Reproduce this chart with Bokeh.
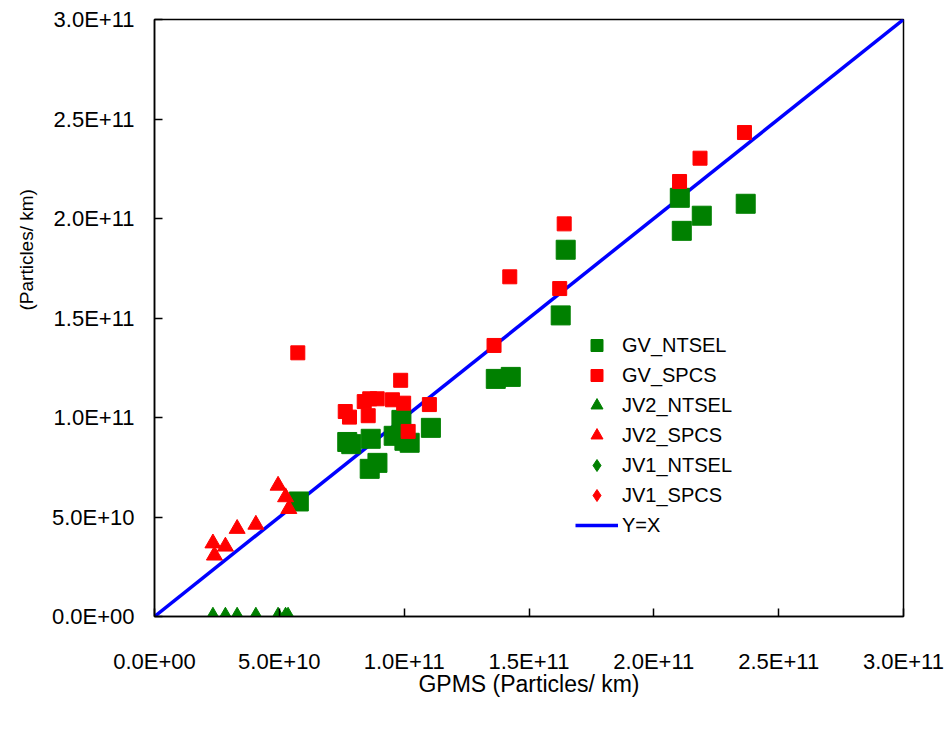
import math
from bokeh.plotting import figure
from bokeh.models import Range1d, Legend, LegendItem, Title, FixedTicker, CustomJSTickFormatter
from bokeh.embed import file_html
from bokeh.resources import INLINE

# ---- data (particles/km) ----
gv_ntsel_x = [77.2e9, 78.8e9, 86.6e9, 98.9e9, 95.8e9, 100.1e9, 102.2e9, 110.7e9, 89.3e9, 86.2e9,
              57.8e9, 164.7e9, 162.7e9, 136.7e9, 142.7e9, 210.4e9, 219.2e9, 211.2e9, 236.8e9]
gv_ntsel_y = [87.7e9, 86.6e9, 89.3e9, 98.8e9, 90.8e9, 88.3e9, 87.3e9, 94.8e9, 77.2e9, 74.2e9,
              57.8e9, 184.3e9, 151.3e9, 119.4e9, 120.4e9, 210.4e9, 201.4e9, 193.8e9, 207.4e9]

gv_spcs_x = [57.4e9, 98.6e9, 86.2e9, 84.0e9, 89.2e9, 95.3e9, 99.8e9, 110.1e9, 76.4e9, 78.1e9,
             85.6e9, 101.6e9, 164.1e9, 142.3e9, 162.3e9, 136.0e9, 236.3e9, 218.5e9, 210.3e9]
gv_spcs_y = [132.5e9, 118.7e9, 109.4e9, 108.0e9, 109.4e9, 108.9e9, 107.2e9, 106.5e9, 103.0e9, 100.2e9,
             100.9e9, 93.0e9, 197.3e9, 170.7e9, 164.8e9, 136.2e9, 243.2e9, 230.3e9, 218.6e9]

jv2_ntsel_x = [23.4e9, 28.4e9, 33.1e9, 40.6e9, 49.5e9, 52.5e9, 53.5e9]
jv2_ntsel_y = [0.0, 0.0, 0.0, 0.0, 0.0, 0.0, 0.0]

jv2_spcs_x = [49.5e9, 52.5e9, 53.8e9, 33.1e9, 40.6e9, 23.4e9, 28.4e9, 24.0e9]
jv2_spcs_y = [65.8e9, 60.0e9, 54.1e9, 44.1e9, 46.2e9, 36.8e9, 35.2e9, 30.7e9]

# JV1 series: no visible points in the chart (legend entries only)
jv1_ntsel_x = [float("nan")]
jv1_ntsel_y = [float("nan")]
jv1_spcs_x = [float("nan")]
jv1_spcs_y = [float("nan")]

yx_line = [0.0, 3.0e11]

tick_values = [0.0, 5.0e10, 1.0e11, 1.5e11, 2.0e11, 2.5e11, 3.0e11]
tick_labels = ["0.0E+00", "5.0E+10", "1.0E+11", "1.5E+11", "2.0E+11", "2.5E+11", "3.0E+11"]

FONT = "Liberation Sans"

p = figure(width=946, height=730, output_backend="svg", toolbar_location=None,
           x_range=Range1d(0, 3.0e11), y_range=Range1d(0, 3.0e11),
           min_border_left=154, min_border_right=43, min_border_top=19, min_border_bottom=114)
p.background_fill_color = "white"
p.border_fill_color = "white"
p.outline_line_color = "black"
p.outline_line_width = 1.5
p.xgrid.visible = False
p.ygrid.visible = False

GREEN = "#008000"
RED = "#FF0000"

r_line = p.line(yx_line, yx_line, line_color="#0000FF", line_width=3.5)
r_gvn = p.scatter(gv_ntsel_x, gv_ntsel_y, marker="square", size=19, color=GREEN)
r_gvs = p.scatter(gv_spcs_x, gv_spcs_y, marker="square", size=14, color=RED)
r_j2n = p.scatter(jv2_ntsel_x, jv2_ntsel_y, marker="triangle", size=16, color=GREEN)
r_j2s = p.scatter(jv2_spcs_x, jv2_spcs_y, marker="triangle", size=16, color=RED)
r_j1n = p.scatter(jv1_ntsel_x, jv1_ntsel_y, marker="diamond", size=18, color=GREEN)
r_j1s = p.scatter(jv1_spcs_x, jv1_spcs_y, marker="diamond", size=18, color=RED)

tick_map = dict(zip([str(int(v)) for v in tick_values], tick_labels))
fmt = CustomJSTickFormatter(args=dict(m=tick_map), code="return m[String(Math.round(tick))] || '';")

for ax in (p.xaxis[0], p.yaxis[0]):
    ax.ticker = FixedTicker(ticks=tick_values)
    ax.formatter = fmt
    ax.major_tick_in = 8
    ax.major_tick_out = 0
    ax.minor_tick_line_color = None
    ax.axis_line_color = "black"
    ax.axis_line_width = 1.5
    ax.major_tick_line_color = "black"
    ax.major_tick_line_width = 1.5
    ax.major_label_text_font = FONT
    ax.major_label_text_font_size = "22px"
    ax.major_label_text_color = "black"

p.xaxis[0].major_label_standoff = 32
p.yaxis[0].major_label_standoff = 20
p.xaxis[0].axis_label = "GPMS (Particles/ km)"
p.xaxis[0].axis_label_text_font = FONT
p.xaxis[0].axis_label_text_font_size = "23px"
p.xaxis[0].axis_label_text_font_style = "normal"
p.xaxis[0].axis_label_text_color = "black"
p.xaxis[0].axis_label_standoff = -6

ytitle = Title(text="(Particles/ km)", align="left", offset=306, standoff=24,
               text_font=FONT, text_font_size="19px", text_font_style="normal",
               text_color="black")
p.add_layout(ytitle, "left")

legend = Legend(items=[
    LegendItem(label="GV_NTSEL", renderers=[r_gvn]),
    LegendItem(label="GV_SPCS", renderers=[r_gvs]),
    LegendItem(label="JV2_NTSEL", renderers=[r_j2n]),
    LegendItem(label="JV2_SPCS", renderers=[r_j2s]),
    LegendItem(label="JV1_NTSEL", renderers=[r_j1n]),
    LegendItem(label="JV1_SPCS", renderers=[r_j1s]),
    LegendItem(label="Y=X", renderers=[r_line]),
], location=(421, 76))
legend.border_line_color = None
legend.background_fill_alpha = 0
legend.padding = 0
legend.margin = 0
legend.spacing = 0
legend.glyph_width = 43
legend.glyph_height = 30
legend.label_height = 30
legend.label_standoff = 4
legend.label_text_font = FONT
legend.label_text_font_size = "20px"
legend.label_text_color = "black"
p.add_layout(legend)

open("out.html", "w").write(file_html(p, INLINE))
